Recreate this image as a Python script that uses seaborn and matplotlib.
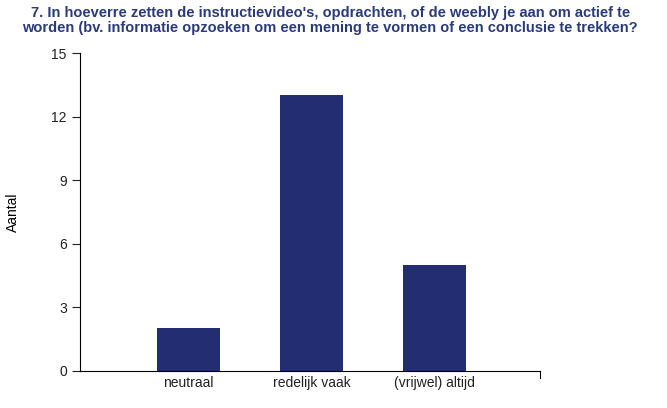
import matplotlib
matplotlib.use("Agg")
import matplotlib.pyplot as plt
import seaborn as sns
import pandas as pd

categories = ["neutraal", "redelijk vaak", "(vrijwel) altijd"]
values = [2, 13, 5]
yticks = [0, 3, 6, 9, 12, 15]

plt.rcParams["font.family"] = "Liberation Sans"
df = pd.DataFrame({"cat": categories, "val": values})
fig = plt.figure(figsize=(6.67, 4.08), dpi=100)
ax = fig.add_axes([0.12, 0.091, 0.69, 0.779])
sns.barplot(data=df, x="cat", y="val", color="#232e72", width=0.51, saturation=1, ax=ax)
ax.set_xlim(-0.88, 2.86)
ax.set_ylim(0, 15)
ax.set_yticks(yticks)
ax.set_xlabel("")
ax.set_ylabel("Aantal", fontsize=10)
ax.yaxis.set_label_coords(-0.13, 0.5)
ax.tick_params(axis="both", labelsize=10, colors="#222222", length=6, width=0.8)
ax.tick_params(axis="x", length=0)
for s in ["top", "right"]:
    ax.spines[s].set_visible(False)
ax.spines["left"].set_linewidth(0.8)
ax.spines["bottom"].set_linewidth(0.8)
ax.plot([2.86, 2.86], [0, -0.35], color="black", lw=0.8, clip_on=False)
fig.text(0.495, 0.985, "7. In hoeverre zetten de instructievideo's, opdrachten, of de weebly je aan om actief te\nworden (bv. informatie opzoeken om een mening te vormen of een conclusie te trekken?",
         ha="center", va="top", fontsize=10.5, fontweight="bold", color="#2b3a7a", linespacing=1.1)
fig.savefig("out.png", dpi=100)
